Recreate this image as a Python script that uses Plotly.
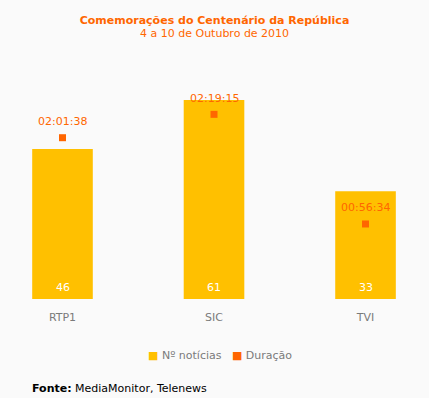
import plotly.graph_objects as go

# ---- data ----
channels = ["RTP1", "SIC", "TVI"]
news_count = [46, 61, 33]
duration_labels = ["02:01:38", "02:19:15", "00:56:34"]
series_names = ["Nº notícias", "Duração"]

def to_seconds(s):
    h, m, sec = (int(p) for p in s.split(":"))
    return h * 3600 + m * 60 + sec

duration_sec = [to_seconds(s) for s in duration_labels]

# ---- style ----
BG = "#fafafa"
BAR = "#ffc000"
ORANGE = "#ff6600"
GREY = "#7a7a7a"
FONT = "DejaVu Sans"

W, H = 429, 398
ML, MR, MT, MB = 10, 10, 60, 99
plot_h = H - MT - MB

def py(pix):
    """pixel row -> paper y"""
    return (H - MB - pix) / plot_h

def px(pix):
    return (pix - ML) / (W - ML - MR)

fig = go.Figure()
fig.add_trace(go.Bar(
    x=channels, y=news_count, name=series_names[0],
    marker=dict(color=BAR, line=dict(width=0)),
    width=0.4,
    hoverinfo="skip", showlegend=False,
))
fig.add_trace(go.Scatter(
    x=channels, y=duration_sec, name=series_names[1], yaxis="y2",
    mode="markers",
    marker=dict(symbol="square", size=7, color=ORANGE),
    hoverinfo="skip", showlegend=False,
))

annotations = []
for c, v in zip(channels, news_count):
    annotations.append(dict(
        x=c, y=0, xref="x", yref="y", text=str(v), showarrow=False,
        yanchor="middle", yshift=12,
        font=dict(size=11, color="white", family=FONT)))
for c, v, lab in zip(channels, duration_sec, duration_labels):
    annotations.append(dict(
        x=c, y=v, xref="x", yref="y2", text=lab, showarrow=False,
        yanchor="middle", yshift=16,
        font=dict(size=11, color=ORANGE, family=FONT)))

legend_text = (f"<span style='color:{BAR}'>■</span> {series_names[0]}   "
               f"<span style='color:{ORANGE}'>■</span> {series_names[1]}")

annotations += [
    dict(text="4 a 10 de Outubro de 2010", xref="paper", yref="paper",
         x=0.5, xanchor="center", y=py(33), yanchor="middle",
         showarrow=False, font=dict(size=11, color=ORANGE, family=FONT)),
    dict(text=legend_text, xref="paper", yref="paper",
         x=px(220), xanchor="center", y=py(355), yanchor="middle",
         showarrow=False, font=dict(size=11, color=GREY, family=FONT)),
    dict(text="<b>Fonte:</b> MediaMonitor, Telenews", xref="paper", yref="paper",
         x=px(30), xanchor="left", y=py(388), yanchor="middle",
         showarrow=False, font=dict(size=11, color="black", family=FONT)),
]

fig.update_layout(
    width=W, height=H,
    margin=dict(l=ML, r=MR, t=MT, b=MB),
    paper_bgcolor=BG, plot_bgcolor=BG,
    font=dict(family=FONT, size=11, color=GREY),
    showlegend=False,
    xaxis=dict(type="category", range=[-0.3465, 2.353],
               showgrid=False, zeroline=False, showline=False,
               ticks="", tickfont=dict(size=11, color=GREY, family=FONT),
               ticklabelstandoff=10),
    yaxis=dict(range=[0, plot_h / 3.263], visible=False, showgrid=False),
    yaxis2=dict(range=[0, plot_h / 0.0221], visible=False, overlaying="y",
                side="right", showgrid=False),
    title=dict(text="<b>Comemorações do Centenário da República</b>",
               font=dict(size=11, color=ORANGE, family=FONT),
               x=0.5, xanchor="center", xref="paper",
               y=1 - 20 / H, yanchor="middle", yref="container"),
    annotations=annotations,
)

fig.write_html(
    "out.html",
    config={"displayModeBar": False},
    post_script="document.body.style.margin='0';document.body.style.background='#fafafa';document.body.style.overflow='hidden';",
)
